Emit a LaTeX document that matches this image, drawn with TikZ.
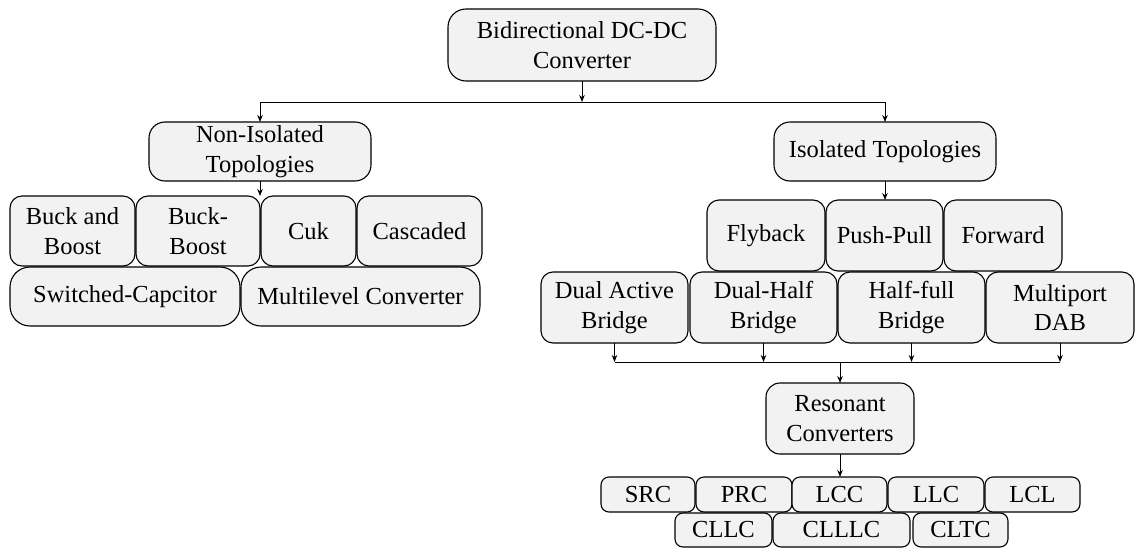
\documentclass[tikz,border=0pt]{standalone}
\usepackage{fontspec}
\setmainfont{Liberation Serif}
\usetikzlibrary{arrows.meta}
\definecolor{boxfill}{RGB}{242,242,242}
\tikzset{
  box/.style={draw=black, line width=1.1pt, fill=boxfill, align=center, inner sep=0pt, outer sep=0pt,
    font=\fontsize{24.5}{29.5}\selectfont},
  arr/.style={line width=1pt, -{Stealth[length=7pt,width=5.5pt]}},
  ln/.style={line width=1pt}
}
\begin{document}
\begin{tikzpicture}[x=1pt,y=-1pt]
\useasboundingbox (0,0) rectangle (1136,549);
% top
\node[box, minimum width=268pt, minimum height=72pt, rounded corners=18pt] (top) at (582,45) {Bidirectional DC-DC\\Converter};
\node[box, minimum width=222pt, minimum height=59pt, rounded corners=16pt] (noniso) at (260,151.5) {Non-Isolated\\Topologies};
\node[box, minimum width=222pt, minimum height=59pt, rounded corners=16pt] (iso) at (885,151.5) {Isolated Topologies};
% left rows
\node[box, minimum width=125pt, minimum height=70pt, rounded corners=12pt] (bab) at (72.5,231) {Buck and\\Boost};
\node[box, minimum width=124pt, minimum height=70pt, rounded corners=12pt] (bb) at (198,231) {Buck-\\Boost};
\node[box, minimum width=95pt, minimum height=70pt, rounded corners=12pt] (cuk) at (308.5,231) {Cuk};
\node[box, minimum width=125pt, minimum height=70pt, rounded corners=12pt] (casc) at (419.5,231) {Cascaded};
\node[box, minimum width=230pt, minimum height=59pt, rounded corners=20pt] (swc) at (125,296.5) {Switched-Capcitor};
\node[box, minimum width=239pt, minimum height=59pt, rounded corners=20pt] (mlc) at (360.5,296.5) {Multilevel Converter};
% right rows
\node[box, minimum width=118pt, minimum height=71pt, rounded corners=12pt] (fly) at (766,235.5) {Flyback};
\node[box, minimum width=117pt, minimum height=71pt, rounded corners=12pt] (pp) at (884.5,235.5) {Push-Pull};
\node[box, minimum width=118pt, minimum height=71pt, rounded corners=12pt] (fwd) at (1003,235.5) {Forward};
\node[box, minimum width=147pt, minimum height=71pt, rounded corners=12pt] (dab) at (614.5,307.5) {Dual Active\\Bridge};
\node[box, minimum width=147pt, minimum height=71pt, rounded corners=12pt] (dhb) at (763.5,307.5) {Dual-Half\\Bridge};
\node[box, minimum width=147pt, minimum height=71pt, rounded corners=12pt] (hfb) at (911.5,307.5) {Half-full\\Bridge};
\node[box, minimum width=148pt, minimum height=71pt, rounded corners=12pt] (mdab) at (1060,307.5) {Multiport\\DAB};
\node[box, minimum width=148pt, minimum height=71pt, rounded corners=14pt] (res) at (840,418.5) {Resonant\\Converters};
% resonant types
\node[box, minimum width=94pt, minimum height=35pt, rounded corners=8pt] (src) at (648,494.5) {SRC};
\node[box, minimum width=96pt, minimum height=35pt, rounded corners=8pt] (prc) at (744,494.5) {PRC};
\node[box, minimum width=95pt, minimum height=35pt, rounded corners=8pt] (lcc) at (839.5,494.5) {LCC};
\node[box, minimum width=96pt, minimum height=35pt, rounded corners=8pt] (llc) at (936,494.5) {LLC};
\node[box, minimum width=95pt, minimum height=35pt, rounded corners=8pt] (lcl) at (1032.5,494.5) {LCL};
\node[box, minimum width=97pt, minimum height=34pt, rounded corners=8pt] (cllc) at (723.5,530) {CLLC};
\node[box, minimum width=137pt, minimum height=34pt, rounded corners=8pt] (clllc) at (841.5,530) {CLLLC};
\node[box, minimum width=95pt, minimum height=34pt, rounded corners=8pt] (cltc) at (960.5,530) {CLTC};
% connectors
\coordinate (jT) at (582,102);
\coordinate (jL) at (260,102);
\coordinate (jR) at (885,102);
\draw[arr] (top.south) -- (jT);
\draw[ln] (jL) -- (jR);
\draw[arr] (jL) -- (noniso.north);
\draw[arr] (jR) -- (iso.north);
\draw[arr] (noniso.south) -- (noniso.south |- bb.north);
\draw[arr] (iso.south) -- (iso.south |- pp.north);
\coordinate (jB) at (840,362);
\draw[arr] (dab.south) -- (dab.south |- jB);
\draw[arr] (dhb.south) -- (dhb.south |- jB);
\draw[arr] (hfb.south) -- (hfb.south |- jB);
\draw[arr] (mdab.south) -- (mdab.south |- jB);
\draw[ln] (dab.south |- jB) -- (mdab.south |- jB);
\draw[arr] (jB) -- (res.north);
\draw[arr] (res.south) -- (res.south |- lcc.north);
\end{tikzpicture}
\end{document}
